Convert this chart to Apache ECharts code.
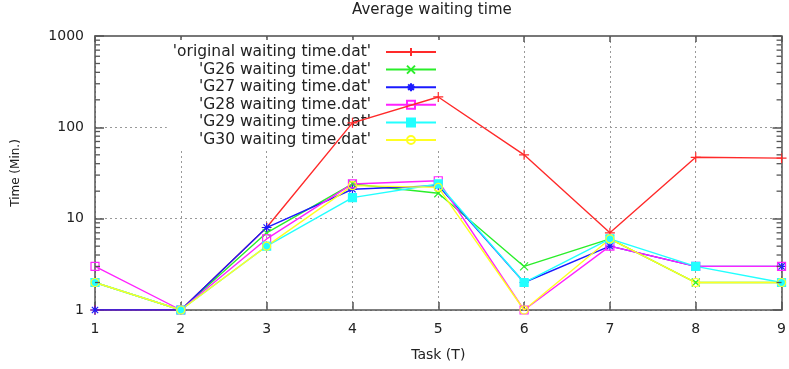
<!DOCTYPE html>
<html>
<head>
<meta charset="utf-8">
<script src="https://cdn.jsdelivr.net/npm/echarts@6/dist/echarts.min.js"></script>
<style>html,body{margin:0;padding:0;background:#fff;}#chart{width:789px;height:369px;}</style>
</head>
<body>
<div id="chart"></div>
<script>
const tasks = [1, 2, 3, 4, 5, 6, 7, 8, 9];
const seriesNames = ["'original waiting time.dat'", "'G26 waiting time.dat'", "'G27 waiting time.dat'", "'G28 waiting time.dat'", "'G29 waiting time.dat'", "'G30 waiting time.dat'"];
const original = [1, 1, 8, 112, 215, 50, 7, 47, 46];
const g26 = [2, 1, 7, 24, 19, 3, 6, 2, 2];
const g27 = [1, 1, 8, 21, 23, 2, 5, 3, 3];
const g28 = [3, 1, 6, 24, 26, 1, 5, 3, 3];
const g29 = [2, 1, 5, 17, 24, 2, 6, 3, 2];
const g30 = [2, 1, 5, 23, 22, 1, 6, 2, 2];
const yTicks = [1, 10, 100, 1000];
const minorTickValues = [2,3,4,5,6,7,8,9,20,30,40,50,60,70,80,90,200,300,400,500,600,700,800,900];

const colors = ['#ff2a2a', '#2aee2a', '#1a1aff', '#ff22ff', '#22ffff', '#ffff22'];
const symbols = [
  'path://M0,5L10,5M5,0L5,10',
  'path://M0,0L10,10M10,0L0,10',
  'path://M5,0L5,10M0,5L10,5M1.5,1.5L8.5,8.5M8.5,1.5L1.5,8.5',
  'rect',
  'rect',
  'circle'
];
const fills = [null, null, null, 'transparent', null, 'transparent'];
const sizes = [10, 8, 9, 8, 8, 8];
const allData = [original, g26, g27, g28, g29, g30];

const lineSeries = allData.map(function (vals, i) {
  return {
    name: seriesNames[i],
    type: 'line',
    data: tasks.map(function (t, k) { return [t, vals[k]]; }),
    symbol: symbols[i],
    symbolSize: sizes[i],
    showAllSymbol: true,
    lineStyle: { color: colors[i], width: 1.4 },
    itemStyle: {
      color: fills[i] === null ? colors[i] : fills[i],
      borderColor: colors[i],
      borderWidth: 1.2
    },
    emphasis: { disabled: true },
    animation: false
  };
});

const chart = echarts.init(document.getElementById('chart'), null, { renderer: 'canvas' });
const axisColor = '#555';
const option = {
  backgroundColor: '#fff',
  animation: false,
  title: {
    text: 'Average waiting time',
    left: 352,
    top: 3,
    padding: 0,
    textStyle: { fontFamily: 'DejaVu Sans', fontSize: 15, fontWeight: 'normal', color: '#222' }
  },
  legend: {
    data: seriesNames,
    orient: 'vertical',
    align: 'right',
    right: 346,
    top: 40,
    padding: [4, 6, 2, 6],
    itemWidth: 50,
    itemHeight: 10,
    itemGap: 1.6,
    backgroundColor: '#fff',
    z: 1,
    selectedMode: false,
    textStyle: { fontFamily: 'DejaVu Sans', fontSize: 15.5, color: '#222', padding: [0, 10, 0, 0] }
  },
  grid: { left: 95, right: 5, top: 36, bottom: 59, containLabel: false },
  xAxis: [
    {
      type: 'value', min: 1, max: 9, interval: 1, position: 'bottom',
      name: 'Task (T)', nameLocation: 'middle', nameGap: 38,
      nameTextStyle: { fontFamily: 'DejaVu Sans', fontSize: 14, color: '#222' },
      axisLine: { show: true, lineStyle: { color: axisColor, width: 1.5 } },
      axisTick: { show: true, inside: true, length: 8, lineStyle: { color: axisColor, width: 1.5 } },
      axisLabel: { margin: 12, fontFamily: 'DejaVu Sans', fontSize: 14, color: '#222' },
      splitLine: { show: true, lineStyle: { color: '#999', type: [2, 3], width: 1 } }
    },
    {
      type: 'value', min: 1, max: 9, interval: 1, position: 'top',
      axisLine: { show: true, onZero: false, lineStyle: { color: '#777', width: 2 } },
      axisTick: { show: true, inside: true, length: 6, lineStyle: { color: axisColor, width: 1.5 } },
      axisLabel: { show: false },
      splitLine: { show: false }
    }
  ],
  yAxis: [
    {
      type: 'log', logBase: 10, min: 1, max: 1000, position: 'left',
      name: 'Time (Min.)', nameLocation: 'middle', nameGap: 73, nameRotate: 90,
      nameTextStyle: { fontFamily: 'DejaVu Sans', fontSize: 12, color: '#222' },
      axisLine: { show: true, lineStyle: { color: axisColor, width: 1.5 } },
      axisTick: { show: true, inside: true, length: 9, lineStyle: { color: axisColor, width: 1.5 } },
      axisLabel: {
        margin: 11, fontFamily: 'DejaVu Sans', fontSize: 14, color: '#222',
        formatter: function (v) { return yTicks.indexOf(Math.round(v)) >= 0 ? String(Math.round(v)) : ''; }
      },
      splitLine: { show: true, lineStyle: { color: '#999', type: [2, 3], width: 1 } }
    },
    {
      type: 'log', logBase: 10, min: 1, max: 1000, position: 'right',
      axisLine: { show: true, lineStyle: { color: axisColor, width: 1.5 } },
      axisTick: { show: true, inside: true, length: 9, lineStyle: { color: axisColor, width: 1.5 } },
      axisLabel: { show: false },
      splitLine: { show: false }
    }
  ],
  series: [
    {
      name: 'minorTicks',
      type: 'custom',
      silent: true,
      xAxisIndex: 0,
      yAxisIndex: 0,
      z: 5,
      clip: false,
      data: minorTickValues.map(function (v) { return [1, v]; }),
      encode: { x: 0, y: 1 },
      renderItem: function (params, api) {
        const y = api.coord([1, api.value(1)])[1];
        const cs = params.coordSys;
        return {
          type: 'group',
          children: [
            { type: 'line', shape: { x1: cs.x, y1: y, x2: cs.x + 5, y2: y }, style: { stroke: axisColor, lineWidth: 1.3 } },
            { type: 'line', shape: { x1: cs.x + cs.width - 5, y1: y, x2: cs.x + cs.width, y2: y }, style: { stroke: axisColor, lineWidth: 1.3 } }
          ]
        };
      }
    }
  ].concat(lineSeries)
};
chart.setOption(option);
</script>
</body>
</html>
